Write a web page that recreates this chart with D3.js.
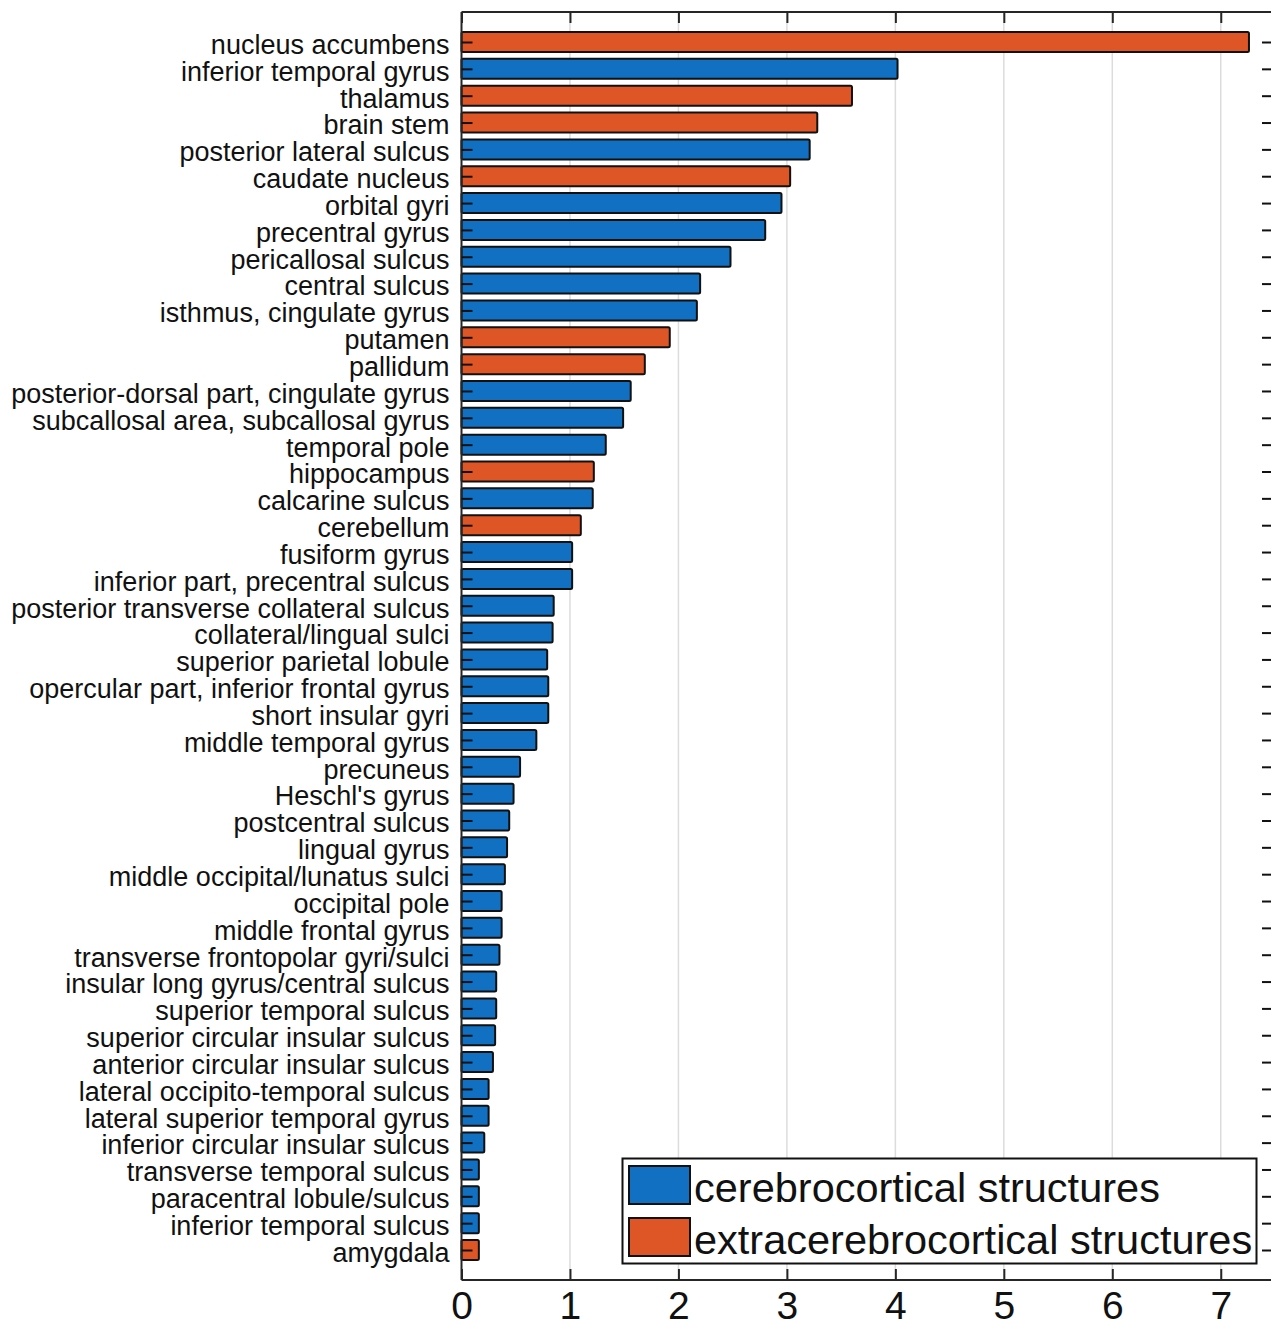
<!DOCTYPE html>
<html>
<head>
<meta charset="utf-8">
<script src="https://cdn.jsdelivr.net/npm/d3@7"></script>
<style>
  html, body { margin: 0; padding: 0; background: #fff; }
  svg { display: block; font-family: "Liberation Sans", Arial, Helvetica, sans-serif; }
</style>
</head>
<body>
<svg id="chart" width="1271" height="1321"></svg>
<script>
// Brain structures, sorted by value (top to bottom)
const structures = [
  "nucleus accumbens", "inferior temporal gyrus", "thalamus", "brain stem",
  "posterior lateral sulcus", "caudate nucleus", "orbital gyri", "precentral gyrus",
  "pericallosal sulcus", "central sulcus", "isthmus, cingulate gyrus", "putamen",
  "pallidum", "posterior-dorsal part, cingulate gyrus", "subcallosal area, subcallosal gyrus",
  "temporal pole", "hippocampus", "calcarine sulcus", "cerebellum", "fusiform gyrus",
  "inferior part, precentral sulcus", "posterior transverse collateral sulcus",
  "collateral/lingual sulci", "superior parietal lobule", "opercular part, inferior frontal gyrus",
  "short insular gyri", "middle temporal gyrus", "precuneus", "Heschl's gyrus",
  "postcentral sulcus", "lingual gyrus", "middle occipital/lunatus sulci", "occipital pole",
  "middle frontal gyrus", "transverse frontopolar gyri/sulci", "insular long gyrus/central sulcus",
  "superior temporal sulcus", "superior circular insular sulcus", "anterior circular insular sulcus",
  "lateral occipito-temporal sulcus", "lateral superior temporal gyrus",
  "inferior circular insular sulcus", "transverse temporal sulcus", "paracentral lobule/sulcus",
  "inferior temporal sulcus", "amygdala"
];

const values = [
  7.26, 4.02, 3.60, 3.28, 3.21, 3.03, 2.95, 2.80, 2.48, 2.20, 2.17, 1.92,
  1.69, 1.56, 1.49, 1.33, 1.22, 1.21, 1.10, 1.02, 1.02, 0.85, 0.84, 0.79,
  0.80, 0.80, 0.69, 0.54, 0.48, 0.44, 0.42, 0.40, 0.37, 0.37, 0.35, 0.32,
  0.32, 0.31, 0.29, 0.25, 0.25, 0.21, 0.16, 0.16, 0.16, 0.16
];

// "c" = cerebrocortical, "e" = extracerebrocortical
const groups = [
  "e", "c", "e", "e", "c", "e", "c", "c", "c", "c", "c", "e",
  "e", "c", "c", "c", "e", "c", "e", "c", "c", "c", "c", "c",
  "c", "c", "c", "c", "c", "c", "c", "c", "c", "c", "c", "c",
  "c", "c", "c", "c", "c", "c", "c", "c", "c", "e"
];

const xTicks = [0, 1, 2, 3, 4, 5, 6, 7];
const legendLabels = ["cerebrocortical structures", "extracerebrocortical structures"];
const legendKeys = ["c", "e"];

const color = d3.scaleOrdinal().domain(["c", "e"]).range(["#1170c2", "#de5626"]);

const svg = d3.select("#chart");
const plotLeft = 461.5, plotRight = 1275, plotTop = 12, plotBottom = 1280;

const x = d3.scaleLinear().domain([0, 7.5]).range([plotLeft, plotRight]);
const y = d3.scalePoint().domain(structures).range([42, 1250]);
const barH = 20;
const tickLen = 11;
const axisColor = "#262626";

const data = structures.map((s, i) => ({ name: s, value: values[i], group: groups[i] }));

// vertical grid lines
svg.append("g")
  .selectAll("line")
  .data(xTicks.filter(t => t > 0))
  .join("line")
  .attr("x1", d => x(d)).attr("x2", d => x(d))
  .attr("y1", plotTop).attr("y2", plotBottom)
  .attr("stroke", "#dcdcdc").attr("stroke-width", 1.5);

// bars
svg.append("g")
  .selectAll("rect")
  .data(data)
  .join("rect")
  .attr("x", x(0))
  .attr("y", d => y(d.name) - barH / 2)
  .attr("width", d => x(d.value) - x(0))
  .attr("height", barH)
  .attr("rx", 1.5)
  .attr("fill", d => color(d.group))
  .attr("stroke", "#111")
  .attr("stroke-width", 2);

// axes frame
const frame = svg.append("g").attr("stroke", axisColor).attr("stroke-width", 2).attr("fill", "none");
frame.append("line").attr("x1", plotLeft).attr("x2", plotLeft).attr("y1", plotTop).attr("y2", plotBottom);
frame.append("line").attr("x1", plotLeft).attr("x2", plotRight).attr("y1", plotTop).attr("y2", plotTop);
frame.append("line").attr("x1", plotLeft).attr("x2", plotRight).attr("y1", plotBottom).attr("y2", plotBottom);
frame.append("line").attr("x1", plotRight).attr("x2", plotRight).attr("y1", plotTop).attr("y2", plotBottom);

// bottom axis: inward ticks and labels
const xAxisBottom = d3.axisBottom(x).tickValues(xTicks).tickSizeInner(-tickLen).tickSizeOuter(0).tickPadding(11);
const gxb = svg.append("g").attr("transform", `translate(0,${plotBottom})`).call(xAxisBottom);
gxb.select(".domain").remove();
gxb.selectAll(".tick line").attr("stroke", axisColor).attr("stroke-width", 2);
gxb.selectAll(".tick text")
  .attr("fill", "#111")
  .style("font-family", '"Liberation Sans", Arial, sans-serif')
  .style("font-size", "39px");

// top axis: inward ticks only
const xAxisTop = d3.axisTop(x).tickValues(xTicks).tickSizeInner(-tickLen).tickSizeOuter(0).tickFormat("");
const gxt = svg.append("g").attr("transform", `translate(0,${plotTop})`).call(xAxisTop);
gxt.select(".domain").remove();
gxt.selectAll(".tick line").attr("stroke", axisColor).attr("stroke-width", 2);

// left axis: inward ticks and structure labels
const yAxisLeft = d3.axisLeft(y).tickSizeInner(-tickLen).tickSizeOuter(0).tickPadding(12);
const gyl = svg.append("g").attr("transform", `translate(${plotLeft},0)`).call(yAxisLeft);
gyl.select(".domain").remove();
gyl.selectAll(".tick line").attr("stroke", "#111").attr("stroke-width", 2);
gyl.selectAll(".tick text")
  .attr("fill", "#111")
  .attr("dy", "0.42em")
  .style("font-family", '"Liberation Sans", Arial, sans-serif')
  .style("font-size", "27px");

// right axis: inward ticks only
const yAxisRight = d3.axisRight(y).tickSizeInner(-tickLen).tickSizeOuter(0).tickFormat("");
const gyr = svg.append("g").attr("transform", `translate(${plotRight - 2},0)`).call(yAxisRight);
gyr.select(".domain").remove();
gyr.selectAll(".tick line").attr("stroke", "#111").attr("stroke-width", 2);

// legend
const legend = svg.append("g");
legend.append("rect")
  .attr("x", 622.5).attr("y", 1158.5).attr("width", 634).attr("height", 105)
  .attr("fill", "#fff").attr("stroke", "#111").attr("stroke-width", 2);
legendKeys.forEach((k, i) => {
  const yy = 1166 + i * 52;
  legend.append("rect")
    .attr("x", 629).attr("y", yy).attr("width", 61).attr("height", 38)
    .attr("fill", color(k)).attr("stroke", "#111").attr("stroke-width", 2);
  legend.append("text")
    .attr("x", 694).attr("y", yy + 21).attr("dy", "0.36em")
    .attr("fill", "#111")
    .style("font-size", "41.5px")
    .text(legendLabels[i]);
});
</script>
</body>
</html>
